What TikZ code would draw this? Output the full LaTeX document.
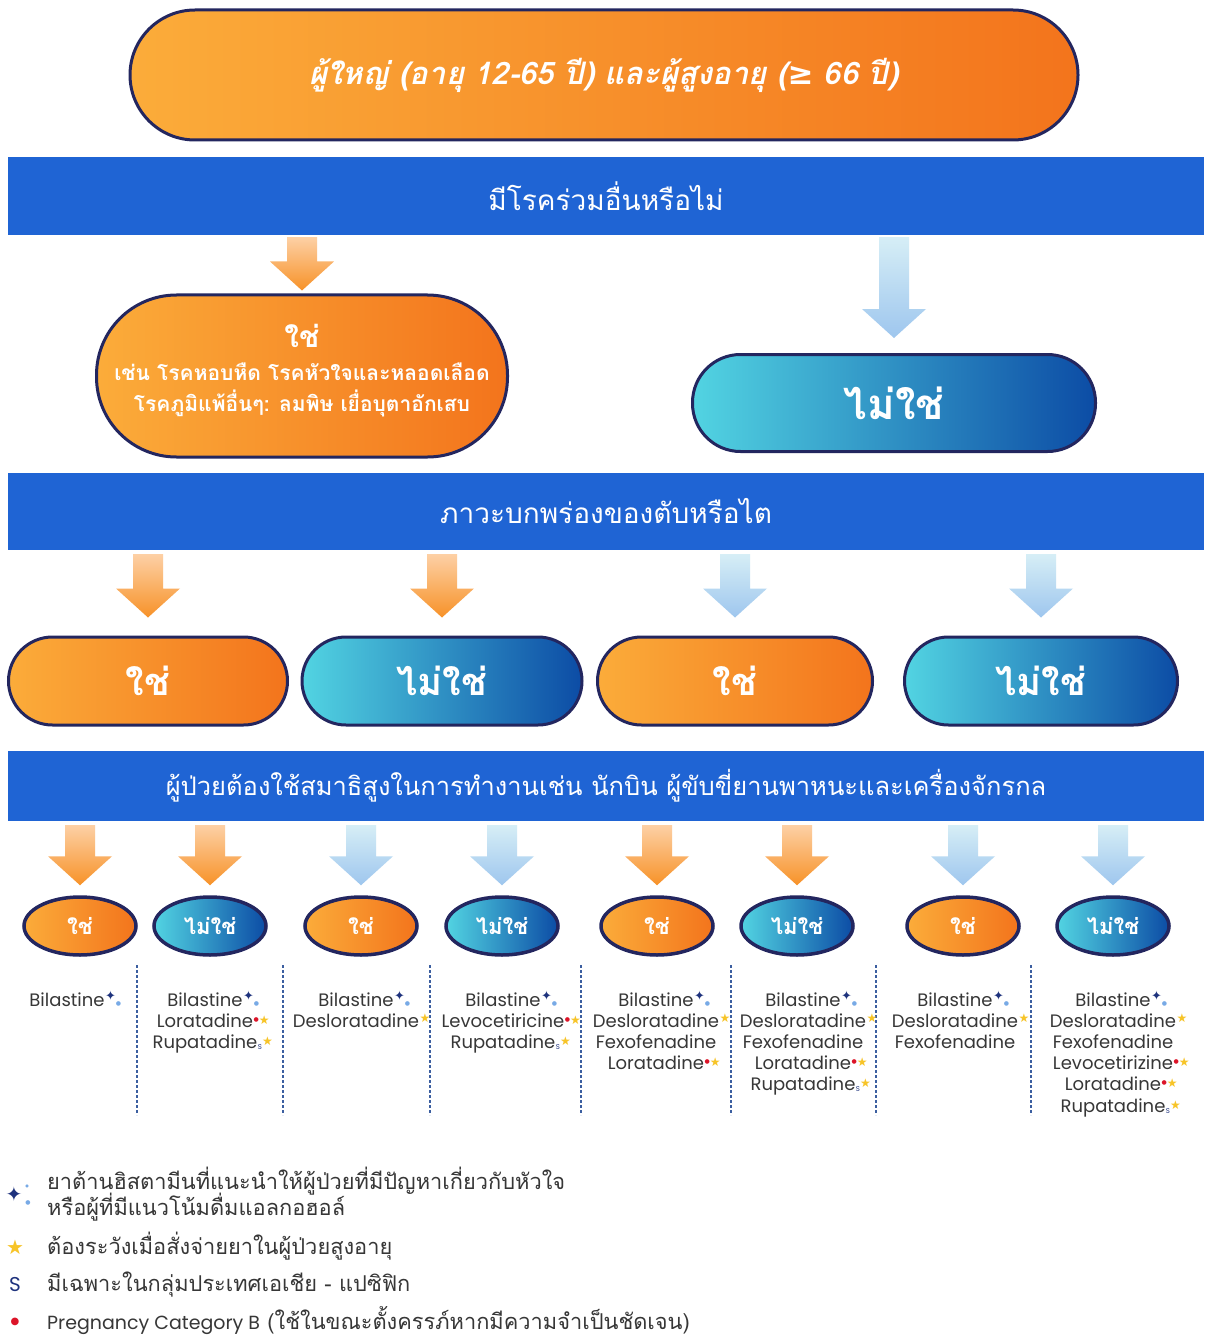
\documentclass[tikz,border=0pt]{standalone}
\usepackage{fontspec}
\setmainfont{Poppins}
\newfontfamily\thai[Script=Thai]{Loma}
\newfontfamily\dejavu{DejaVu Sans}
\usetikzlibrary{shapes.geometric,calc}
\definecolor{bandblue}{RGB}{31,100,212}
\definecolor{navyline}{RGB}{35,38,95}
\definecolor{orL}{RGB}{251,172,58}
\definecolor{orR}{RGB}{243,116,28}
\definecolor{cyL}{RGB}{82,212,226}
\definecolor{blR}{RGB}{12,76,165}
\definecolor{arOT}{RGB}{253,208,165}
\definecolor{arOB}{RGB}{247,146,40}
\definecolor{arBT}{RGB}{214,238,246}
\definecolor{arBB}{RGB}{158,198,238}
\definecolor{txtgray}{RGB}{55,55,55}
\definecolor{sepblue}{RGB}{60,95,160}
\definecolor{sparknavy}{RGB}{30,50,125}
\definecolor{sparksky}{RGB}{120,170,230}
\definecolor{staryel}{RGB}{247,196,40}
\definecolor{dotred}{RGB}{220,20,40}
\newcommand\spk{\rlap{\kern0.5pt\raisebox{6pt}{\dejavu\fontsize{13}{13}\selectfont\textcolor{sparknavy}{✦}}\raisebox{1pt}{\dejavu\fontsize{6}{6}\selectfont\textcolor{sparksky}{●}}}}
\newcommand\stary{\rlap{\kern0.5pt\raisebox{5pt}{\dejavu\fontsize{12}{12}\selectfont\textcolor{staryel}{★}}}}
\newcommand\redst{\rlap{\kern0.5pt\raisebox{6pt}{\dejavu\fontsize{6}{6}\selectfont\textcolor{dotred}{●}}\raisebox{3pt}{\dejavu\fontsize{12}{12}\selectfont\textcolor{staryel}{★}}}}
\newcommand\sst{\rlap{\kern0.5pt\raisebox{-1pt}{\fontsize{7}{7}\selectfont\textcolor{sparknavy}{S}}\raisebox{3pt}{\dejavu\fontsize{12}{12}\selectfont\textcolor{staryel}{★}}}}
\newcommand\blockarrow[3]{%
  \path[#3] let \p1=(#1), \p2=(#2) in
   (\x1-15pt,\y1) -- (\x1+15pt,\y1) -- (\x1+15pt,\y2+29pt) -- (\x1+32pt,\y2+29pt)
   -- (\x1,\y2) -- (\x1-32pt,\y2+29pt) -- (\x1-15pt,\y2+29pt) -- cycle;}
\newcommand\drugcol[3]{%
  \foreach \d [count=\k] in {#3} {
    \node[drug] (#1-\k) at (#2,{1006+21.2*(\k-1)}) {\d};
  }}
\begin{document}
\begin{tikzpicture}[x=1pt,y=-1pt,
  pillO/.style={draw=navyline, line width=3, left color=orL, right color=orR, text=white, inner sep=0},
  pillB/.style={draw=navyline, line width=3, left color=cyL, right color=blR, text=white, inner sep=0},
  band/.style={fill=bandblue, minimum width=1196, inner sep=0, text=white, font=\thai\fontsize{28}{28}\selectfont},
  oarrow/.style={top color=arOT, bottom color=arOB},
  barrow/.style={top color=arBT, bottom color=arBB},
  big/.style={font=\thai\bfseries\fontsize{38}{38}\selectfont},
  small/.style={ellipse, minimum width=112, minimum height=58, line width=3.5, font=\thai\bfseries\fontsize{22}{22}\selectfont},
  drug/.style={anchor=base, inner sep=0, text=txtgray, font=\fontsize{18}{18}\selectfont},
  sep/.style={draw=sepblue, line width=1.6, dash pattern=on 3pt off 2pt},
  legend/.style={anchor=base west, inner sep=0, text=txtgray, font=\thai\fontsize{21.8}{21.8}\selectfont}
]
\fill[white] (0,0) rectangle (1204,1337);
\useasboundingbox (0,0) rectangle (1204,1337);

% top
\node[pillO, minimum width=948, minimum height=130, rounded corners=65,
  font=\thai\bfseries\itshape\fontsize{31}{31}\selectfont] (top) at (604,75)
  {ผู้ใหญ่ (อายุ 12-65 ปี) และผู้สูงอายุ ({\dejavu\bfseries ≥} 66 ปี)};

% band 1
\node[band, minimum height=78] (b1) at (606,196) {มีโรคร่วมอื่นหรือไม่};

% level 1
\node[pillO, minimum width=411, minimum height=162, rounded corners=80] (yes1) at (302,376) {};
\node[inner sep=0, text=white, font=\thai\bfseries\fontsize{30}{30}\selectfont] (yes1t) at (302,336) {ใช่};
\node[inner sep=0, text=white, font=\thai\bfseries\fontsize{21}{21}\selectfont] (yes1a) at (302,372) {เช่น โรคหอบหืด โรคหัวใจและหลอดเลือด};
\node[inner sep=0, text=white, font=\thai\bfseries\fontsize{21}{21}\selectfont] (yes1b) at (302,403) {โรคภูมิแพ้อื่นๆ: ลมพิษ เยื่อบุตาอักเสบ};
\node[pillB, minimum width=403, minimum height=97, rounded corners=48,
  font=\thai\bfseries\fontsize{42}{42}\selectfont] (no1) at (894,403) {ไม่ใช่};

\blockarrow{$(b1.south -| yes1.north)+(0,2)$}{$(yes1.north)+(0,-3)$}{oarrow}
\blockarrow{$(b1.south -| no1.north)+(0,2)$}{$(no1.north)+(0,-15)$}{barrow}

% band 2
\node[band, minimum height=77] (b2) at (606,511.5) {ภาวะบกพร่องของตับหรือไต};

% level 2
\node[pillO, big, minimum width=279, minimum height=88, rounded corners=44] (y2a) at (148,681) {ใช่};
\node[pillB, big, minimum width=280, minimum height=88, rounded corners=44] (n2a) at (442,681) {ไม่ใช่};
\node[pillO, big, minimum width=275, minimum height=88, rounded corners=44] (y2b) at (735,681) {ใช่};
\node[pillB, big, minimum width=273, minimum height=88, rounded corners=44] (n2b) at (1041,681) {ไม่ใช่};

\blockarrow{$(b2.south -| y2a.north)+(0,4)$}{$(y2a.north)+(0,-18)$}{oarrow}
\blockarrow{$(b2.south -| n2a.north)+(0,4)$}{$(n2a.north)+(0,-18)$}{oarrow}
\blockarrow{$(b2.south -| y2b.north)+(0,4)$}{$(y2b.north)+(0,-18)$}{barrow}
\blockarrow{$(b2.south -| n2b.north)+(0,4)$}{$(n2b.north)+(0,-18)$}{barrow}

% band 3
\node[band, minimum height=70, font=\thai\fontsize{25.5}{25.5}\selectfont] (b3) at (606,786) {ผู้ป่วยต้องใช้สมาธิสูงในการทำงานเช่น นักบิน ผู้ขับขี่ยานพาหนะและเครื่องจักรกล};

% level 3
\node[pillO, small] (s1) at (80,926) {ใช่};
\node[pillB, small] (s2) at (210,926) {ไม่ใช่};
\node[pillO, small] (s3) at (361,926) {ใช่};
\node[pillB, small] (s4) at (502,926) {ไม่ใช่};
\node[pillO, small] (s5) at (657,926) {ใช่};
\node[pillB, small] (s6) at (797,926) {ไม่ใช่};
\node[pillO, small] (s7) at (963,926) {ใช่};
\node[pillB, small] (s8) at (1113,926) {ไม่ใช่};

\foreach \s/\st in {s1/oarrow,s2/oarrow,s3/barrow,s4/barrow,s5/oarrow,s6/oarrow,s7/barrow,s8/barrow}{
  \blockarrow{$(b3.south -| \s.north)+(0,4)$}{$(\s.north)+(0,-10)$}{\st}
}

% separators
\foreach \x in {137,283,430,581,731,876,1031}{
  \draw[sep] (\x,965) -- (\x,1115);
}

% drug lists
\drugcol{c1}{67}{Bilastine\spk}
\drugcol{c2}{205}{Bilastine\spk,Loratadine\redst,Rupatadine\sst}
\drugcol{c3}{356}{Bilastine\spk,Desloratadine\stary}
\drugcol{c4}{503}{Bilastine\spk,Levocetiricine\redst,Rupatadine\sst}
\drugcol{c5}{656}{Bilastine\spk,Desloratadine\stary,Fexofenadine,Loratadine\redst}
\drugcol{c6}{803}{Bilastine\spk,Desloratadine\stary,Fexofenadine,Loratadine\redst,Rupatadine\sst}
\drugcol{c7}{955}{Bilastine\spk,Desloratadine\stary,Fexofenadine}
\drugcol{c8}{1113}{Bilastine\spk,Desloratadine\stary,Fexofenadine,Levocetirizine\redst,Loratadine\redst,Rupatadine\sst}

% legend
\node[inner sep=0, text=sparknavy, font=\dejavu\fontsize{20}{20}\selectfont] (i1) at (14,1194) {✦};
\node[inner sep=0, text=sparksky, font=\dejavu\fontsize{6}{6}\selectfont] (i1b) at (28,1203) {●};
\node[inner sep=0, text=sparksky, font=\dejavu\fontsize{4}{4}\selectfont] (i1c) at (27,1186) {●};
\node[legend] (l1a) at (47,1189) {ยาต้านฮิสตามีนที่แนะนำให้ผู้ป่วยที่มีปัญหาเกี่ยวกับหัวใจ};
\node[legend] (l1b) at (47,1215) {หรือผู้ที่มีแนวโน้มดื่มแอลกอฮอล์};
\node[inner sep=0, text=staryel, font=\dejavu\fontsize{20}{20}\selectfont] (i2) at (15,1247) {★};
\node[legend] (l2) at (47,1254) {ต้องระวังเมื่อสั่งจ่ายยาในผู้ป่วยสูงอายุ};
\node[inner sep=0, text=sparknavy, font=\fontsize{20}{20}\selectfont] (i3) at (15,1284) {S};
\node[legend] (l3) at (47,1291) {มีเฉพาะในกลุ่มประเทศเอเชีย - แปซิฟิก};
\node[inner sep=0, text=dotred, font=\dejavu\fontsize{10}{10}\selectfont] (i4) at (15,1322) {●};
\node[legend] (l4) at (47,1329) {{\rmfamily\fontsize{19}{19}\selectfont Pregnancy Category B} (ใช้ในขณะตั้งครรภ์หากมีความจำเป็นชัดเจน)};
\end{tikzpicture}
\end{document}
